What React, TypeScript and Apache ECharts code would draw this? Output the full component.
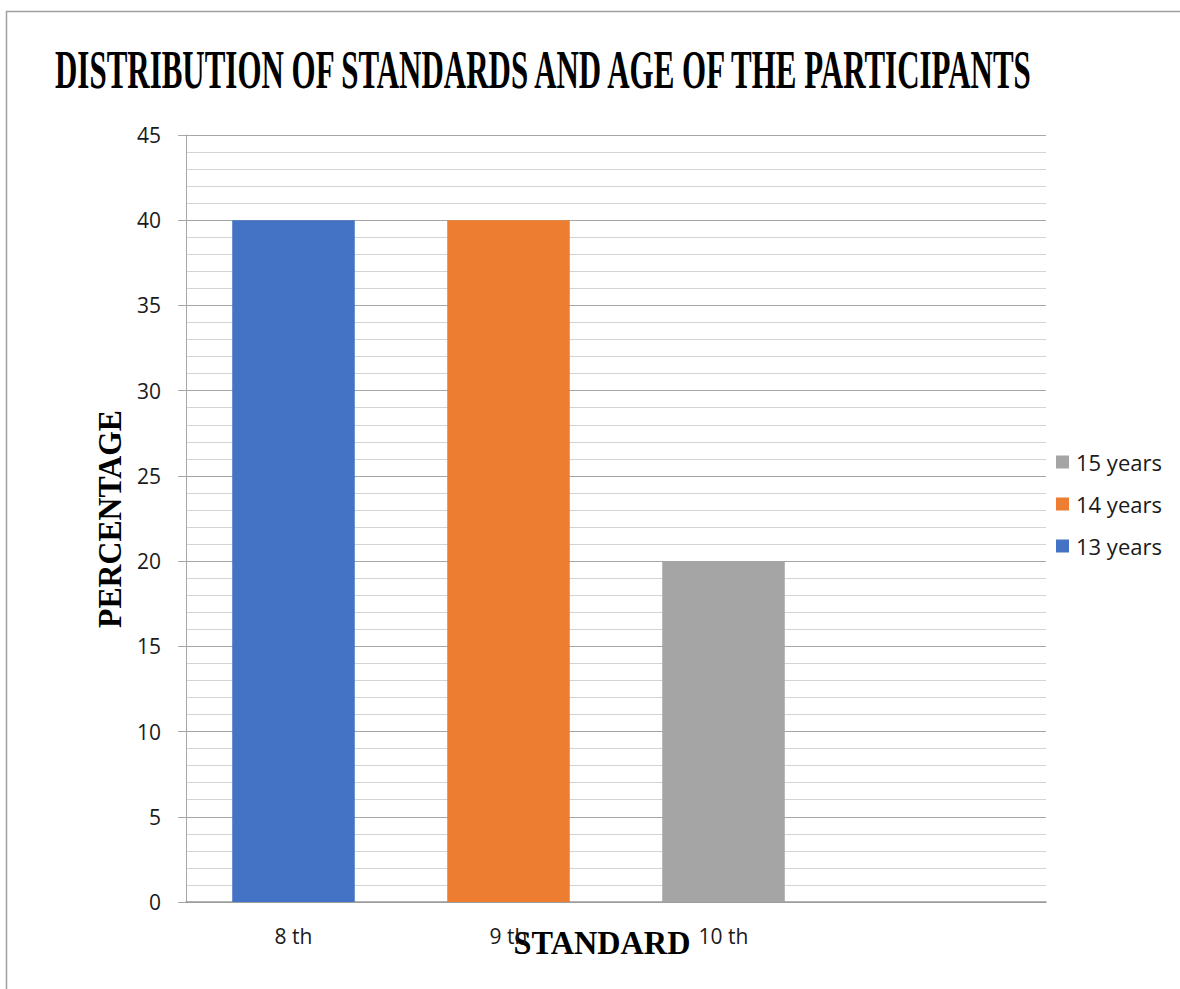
import React, { useEffect, useRef } from "react";
import * as echarts from "echarts";

const categories = ["8 th", "9 th", "10 th", ""];
const seriesNames = ["13 years", "14 years", "15 years"];
const values13 = [40, 0, 0, 0];
const values14 = [0, 40, 0, 0];
const values15 = [0, 0, 20, 0];
const colors = ["#4472C4", "#ED7D31", "#A5A5A5"];
const legendOrder = ["15 years", "14 years", "13 years"];

const titleText = "DISTRIBUTION OF STANDARDS AND AGE OF THE PARTICIPANTS";
const yName = "PERCENTAGE";
const xName = "STANDARD";

const SERIF = '"Liberation Serif", "Times New Roman", serif';
const SANS = '"Open Sans", "Noto Sans", sans-serif';

function fitScale(text: string, font: string, target: number): number {
  const ctx = document.createElement("canvas").getContext("2d");
  if (!ctx) return 1;
  ctx.font = font;
  const w = ctx.measureText(text).width;
  return w > 0 ? target / w : 1;
}

export default function App() {
  const ref = useRef<HTMLDivElement>(null);
  useEffect(() => {
    if (!ref.current) return;
    const chart = echarts.init(ref.current, undefined, { renderer: "svg" });
    const titleFont = `bold 55px ${SERIF}`;
    const yFont = `bold 34px ${SERIF}`;
    const xFont = `bold 33px ${SERIF}`;
    const sTitle = fitScale(titleText, titleFont, 982);
    const sY = fitScale(yName, yFont, 218);
    const sX = fitScale(xName, xFont, 177);
    const data = [values13, values14, values15];
    chart.setOption({
      animation: false,
      backgroundColor: "#ffffff",
      grid: { left: 186, right: 134, top: 135, bottom: 87, containLabel: false },
      legend: {
        orient: "vertical",
        left: 1051,
        top: 446,
        padding: 5,
        itemWidth: 13,
        itemHeight: 13,
        itemGap: 20,
        icon: "rect",
        data: legendOrder,
        textStyle: { fontFamily: SANS, fontSize: 22, color: "#1a1a1a", padding: [0, 0, 0, 2] },
      },
      xAxis: {
        type: "category",
        data: categories,
        axisTick: { show: false },
        axisLine: { show: true, lineStyle: { color: "#9a9a9a", width: 1.5 } },
        axisLabel: { fontFamily: SANS, fontSize: 21, color: "#1a1a1a", margin: 23 },
        splitLine: { show: false },
      },
      yAxis: {
        type: "value",
        min: 0,
        max: 45,
        interval: 5,
        axisLine: { show: true, lineStyle: { color: "#a6a6a6", width: 1 } },
        axisTick: { show: true, length: 8, lineStyle: { color: "#a6a6a6" } },
        axisLabel: { fontFamily: SANS, fontSize: 21, color: "#1a1a1a", margin: 25 },
        splitLine: { show: true, lineStyle: { color: "#a6a6a6", width: 1 } },
        minorTick: { show: false, splitNumber: 5 },
        minorSplitLine: { show: true, lineStyle: { color: "#d4d4d4", width: 1 } },
      },
      series: seriesNames.map((name, i) => ({
        name,
        type: "bar",
        stack: "total",
        barWidth: "57%",
        data: data[i],
        itemStyle: { color: colors[i] },
      })),
      graphic: [
        {
          type: "rect",
          silent: true,
          shape: { x: 6.5, y: 11.5, width: 1400, height: 1200 },
          style: { fill: "none", stroke: "#a0a0a0", lineWidth: 1.5 },
        },
        {
          type: "text",
          x: 55,
          y: 70,
          scaleX: sTitle,
          scaleY: 1,
          style: {
            text: titleText,
            font: titleFont,
            fill: "#000000",
            textAlign: "left",
            textVerticalAlign: "middle",
          },
        },
        {
          type: "text",
          x: 110,
          y: 519,
          rotation: Math.PI / 2,
          scaleX: sY,
          scaleY: 1,
          style: {
            text: yName,
            font: yFont,
            fill: "#000000",
            textAlign: "center",
            textVerticalAlign: "middle",
          },
        },
        {
          type: "text",
          x: 602,
          y: 943,
          scaleX: sX,
          scaleY: 1,
          style: {
            text: xName,
            font: xFont,
            fill: "#000000",
            textAlign: "center",
            textVerticalAlign: "middle",
          },
        },
      ],
    });
    return () => chart.dispose();
  }, []);
  return (
    <div
      ref={ref}
      style={{ position: "absolute", left: 0, top: 0, width: 1180, height: 989 }}
    />
  );
}
